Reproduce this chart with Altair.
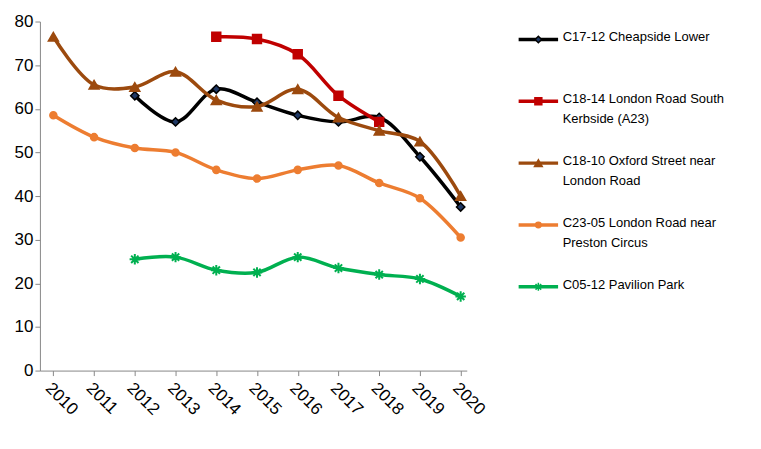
import altair as alt
import pandas as pd

years = list(range(2010, 2021))
series_names = [
    "C17-12 Cheapside Lower",
    "C18-14 London Road South Kerbside (A23)",
    "C18-10 Oxford Street near London Road",
    "C23-05 London Road near Preston Circus",
    "C05-12 Pavilion Park",
]
legend_labels = [
    "C17-12 Cheapside Lower",
    "C18-14 London Road South|Kerbside (A23)",
    "C18-10 Oxford Street near|London Road",
    "C23-05 London Road near|Preston Circus",
    "C05-12 Pavilion Park",
]
cheapside = [None, None, 63, 57, 64.5, 61.5, 58.5, 57, 58, 49, 37.5]
london_south = [None, None, None, None, 76.5, 76, 72.5, 63, 57, None, None]
oxford = [76.5, 65.5, 65, 68.5, 62, 60.5, 64.5, 58, 55, 52.5, 40]
preston = [58.5, 53.5, 51, 50, 46, 44, 46, 47, 43, 39.5, 30.5]
pavilion = [None, None, 25.5, 26, 23, 22.5, 26, 23.5, 22, 21, 17]
all_values = [cheapside, london_south, oxford, preston, pavilion]

line_colors = ["#000000", "#c00000", "#9c4a0e", "#ed7d31", "#00b050"]
fill_colors = ["#1f3864", "#c00000", "#9c4a0e", "#ed7d31", "#00b050"]
asterisk = "M-1,0L1,0M0,-1L0,1M-0.7,-0.7L0.7,0.7M-0.7,0.7L0.7,-0.7"
shapes = ["diamond", "square", "triangle-up", "circle", asterisk]
sizes = [70, 80, 100, 50, 110]

rows = []
for name, vals in zip(series_names, all_values):
    for y, v in zip(years, vals):
        if v is not None:
            rows.append({"series": name, "year": y, "value": v})
df = pd.DataFrame(rows)

xs = alt.Scale(domain=[2009.67, 2020.15], nice=False)
ys = alt.Scale(domain=[0, 80], nice=False)
noview = alt.ViewConfig(stroke=None)

layers = []
for i, name in enumerate(series_names):
    d = df[df.series == name]
    base = alt.Chart(d).encode(
        x=alt.X("year:Q", scale=xs, title=None,
                axis=alt.Axis(values=years, format="d", labelAngle=45, labelAlign="left",
                              labelBaseline="top", labelFontSize=17, labelPadding=4,
                              labelColor="#000", tickSize=5, domainColor="#888",
                              tickColor="#888", grid=False, labelFont="Liberation Sans")),
        y=alt.Y("value:Q", scale=ys, title=None,
                axis=alt.Axis(values=list(range(0, 81, 10)), labelFontSize=17, labelColor="#000",
                              tickSize=5, domainColor="#888", tickColor="#888", grid=False,
                              labelFont="Liberation Sans")),
    )
    layers.append(base.mark_line(interpolate="catmull-rom", color=line_colors[i], strokeWidth=3.5))
    filled = i != 4
    layers.append(base.mark_point(shape=shapes[i], size=sizes[i], filled=filled,
                                  fill=fill_colors[i] if filled else None,
                                  stroke=line_colors[i], strokeWidth=1.5 if filled else 2,
                                  opacity=1))

main = alt.layer(*layers).properties(width=428, height=350, view=noview)

leg = pd.DataFrame({"idx": list(range(5)), "label": legend_labels,
                    "x0": [0] * 5, "x1": [43] * 5, "xm": [21.5] * 5, "xt": [48] * 5,
                    "series": series_names})
lx = alt.Scale(domain=[0, 250], nice=False)
ly = alt.Scale(domain=[5.355, -0.29], nice=False)
leg_layers = []
for i, name in enumerate(series_names):
    d = leg[leg.series == name]
    b = alt.Chart(d)
    leg_layers.append(b.mark_rule(color=line_colors[i], strokeWidth=3.5).encode(
        x=alt.X("x0:Q", scale=lx, axis=None), x2="x1:Q", y=alt.Y("idx:Q", scale=ly, axis=None)))
    filled = i != 4
    leg_layers.append(b.mark_point(shape=shapes[i], size=sizes[i] * 0.6, filled=filled,
                                   fill=fill_colors[i] if filled else None,
                                   stroke=line_colors[i], strokeWidth=1.5, opacity=1).encode(
        x=alt.X("xm:Q", scale=lx, axis=None), y=alt.Y("idx:Q", scale=ly, axis=None)))
leg_layers.append(alt.Chart(leg).mark_text(align="left", baseline="top", dy=-8, fontSize=13,
                                           lineBreak="|", lineHeight=20, color="#000",
                                           font="Liberation Sans").encode(
    x=alt.X("xt:Q", scale=lx, axis=None), y=alt.Y("idx:Q", scale=ly, axis=None), text="label:N"))
legend = alt.layer(*leg_layers).properties(width=230, height=350, view=noview)

chart = alt.hconcat(main, legend, spacing=28).configure(
    padding={"left": 6, "top": 4, "right": 5, "bottom": 5}).configure_view(stroke=None)
chart.save("out.html", embed_options={"renderer": "svg", "actions": False})
